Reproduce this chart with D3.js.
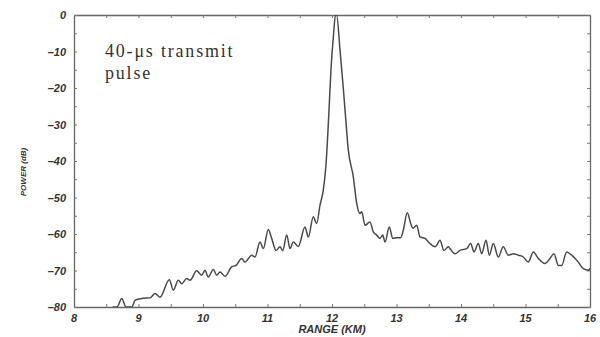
<!DOCTYPE html>
<html>
<head>
<meta charset="utf-8">
<script src="https://cdn.jsdelivr.net/npm/d3@7"></script>
<style>
  body { margin: 0; background: #fff; }
  .tickLabel { font-family: "Liberation Sans", Arial, sans-serif; font-style: italic; font-weight: bold; font-size: 11px; fill: #333; }
  .axisText { font-family: "Liberation Sans", Arial, sans-serif; font-style: italic; font-weight: bold; fill: #333; }
  .note { font-family: "Liberation Serif", "DejaVu Serif", serif; font-size: 18px; letter-spacing: 1.8px; fill: #333; }
</style>
</head>
<body>
<div id="chart"></div>
<script>
var svgWidth = 600;
var svgHeight = 337;

var margin = { top: 15, right: 10, bottom: 30, left: 74 };
var width = svgWidth - margin.left - margin.right;
var height = svgHeight - margin.top - margin.bottom;

// range in km
var rangeKm = [8.60, 8.667, 8.740, 8.806, 8.895, 8.946, 8.992, 9.070, 9.178, 9.256, 9.333,
  9.478, 9.540, 9.617, 9.670, 9.747, 9.798, 9.902, 9.980, 10.031, 10.082, 10.160, 10.212,
  10.264, 10.341, 10.445, 10.512, 10.600, 10.651, 10.755, 10.806, 10.884, 10.935, 11.012,
  11.065, 11.132, 11.194, 11.236, 11.298, 11.349, 11.400, 11.478, 11.581, 11.633, 11.710,
  11.763, 11.814, 11.865, 11.907, 11.946, 11.984, 12.023, 12.054, 12.072, 12.124, 12.171,
  12.202, 12.253, 12.330, 12.383, 12.434, 12.460, 12.512, 12.589, 12.640, 12.693, 12.744,
  12.786, 12.822, 12.888, 12.941, 13.003, 13.065, 13.105, 13.167, 13.220, 13.256, 13.313,
  13.364, 13.442, 13.519, 13.597, 13.623, 13.674, 13.736, 13.803, 13.829, 13.907, 13.984,
  14.088, 14.150, 14.202, 14.268, 14.321, 14.388, 14.439, 14.501, 14.578, 14.656, 14.733,
  14.811, 14.888, 14.966, 15.043, 15.121, 15.198, 15.302, 15.380, 15.442, 15.509, 15.561,
  15.639, 15.716, 15.819, 15.896, 15.974, 16.0];

// received power in dB
var powerDb = [-80, -80, -77.7, -80, -80, -78.2, -77.9, -77.6, -77.5, -76.3, -77.3,
  -72.5, -75.4, -72.7, -73.6, -72.2, -72.7, -70.1, -71.3, -69.9, -71.8, -69.7, -71.3,
  -70.4, -71.6, -69.0, -68.6, -66.7, -67.7, -65.8, -66.3, -62.2, -64.0, -58.8,
  -61.2, -64.5, -63.5, -64.6, -60.3, -64.0, -62.2, -63.4, -58.1, -60.8, -55.3,
  -57.1, -52.1, -48.0, -41.0, -28.8, -15.0, -5.5, 0, 0, -9.6, -19.2,
  -26.0, -37.0, -44.3, -51.6, -54.4, -53.9, -57.6, -56.7, -59.4, -60.3, -61.2,
  -60.3, -62.2, -58.1, -61.2, -61.0, -61.0, -59.0, -54.2, -57.1, -58.4, -57.6,
  -60.8, -61.2, -62.6, -63.5, -63.1, -61.7, -64.5, -63.5, -64.0, -65.4, -64.5,
  -64.0, -62.6, -64.9, -62.6, -65.4, -61.7, -65.8, -62.6, -66.3, -63.5, -65.8,
  -65.4, -65.8, -66.3, -67.7, -64.9, -66.7, -68.1, -66.7, -65.4, -68.6, -68.6,
  -64.9, -65.8, -67.7, -69.5, -69.9, -69.4];

var xTickValues = [8, 9, 10, 11, 12, 13, 14, 15, 16];
var yTickValues = [0, -10, -20, -30, -40, -50, -60, -70, -80];
var noteLines = ["40-\u03bcs transmit", "pulse"];

var pulseData = rangeKm.map(function (r, i) { return { range: r, power: powerDb[i] }; });

var svg = d3.select("#chart")
  .append("svg")
  .attr("width", svgWidth)
  .attr("height", svgHeight);

var chartGroup = svg.append("g")
  .attr("transform", `translate(${margin.left}, ${margin.top})`);

var xLinearScale = d3.scaleLinear().domain([8, 16]).range([0, width]);
var yLinearScale = d3.scaleLinear().domain([-80, 0]).range([height, 0]);

var minorX = d3.range(8, 16.01, 0.5);
var minorY = d3.range(-80, 0.01, 5);

// axes: ticks point inward, all four sides
function styleAxis(g) {
  g.select(".domain").attr("stroke", "#666").attr("stroke-width", 1.3);
  g.selectAll(".tick line").attr("stroke", "#777");
}

chartGroup.append("g")
  .attr("transform", `translate(0, ${height})`)
  .call(d3.axisTop(xLinearScale).tickValues(minorX).tickSize(3).tickFormat("").tickSizeOuter(0))
  .call(styleAxis);

chartGroup.append("g")
  .call(d3.axisBottom(xLinearScale).tickValues(minorX).tickSize(3).tickFormat("").tickSizeOuter(0))
  .call(styleAxis);

chartGroup.append("g")
  .call(d3.axisRight(yLinearScale).tickValues(minorY).tickSize(3).tickFormat("").tickSizeOuter(0))
  .call(styleAxis);

chartGroup.append("g")
  .attr("transform", `translate(${width}, 0)`)
  .call(d3.axisLeft(yLinearScale).tickValues(minorY).tickSize(3).tickFormat("").tickSizeOuter(0))
  .call(styleAxis);

// tick labels
chartGroup.selectAll(".xLabel")
  .data(xTickValues)
  .enter()
  .append("text")
  .attr("class", "tickLabel")
  .attr("x", d => xLinearScale(d))
  .attr("y", height + 15)
  .attr("text-anchor", "middle")
  .text(d => d);

chartGroup.selectAll(".yLabel")
  .data(yTickValues)
  .enter()
  .append("text")
  .attr("class", "tickLabel")
  .attr("x", -8)
  .attr("y", d => yLinearScale(d) + 4)
  .attr("text-anchor", "end")
  .text(d => d === 0 ? "0" : "\u2013" + Math.abs(d));

// pulse trace
var line = d3.line()
  .x(d => xLinearScale(d.range))
  .y(d => yLinearScale(d.power))
  .curve(d3.curveMonotoneX);

chartGroup.append("clipPath")
  .attr("id", "plotClip")
  .append("rect")
  .attr("width", width)
  .attr("height", height);

chartGroup.append("path")
  .datum(pulseData)
  .attr("clip-path", "url(#plotClip)")
  .attr("fill", "none")
  .attr("stroke", "#4a4a4a")
  .attr("stroke-width", 1.5)
  .attr("d", line);

// axis titles
chartGroup.append("text")
  .attr("class", "axisText")
  .attr("transform", `translate(${-margin.left + 26}, ${157}) rotate(-90)`)
  .attr("text-anchor", "middle")
  .attr("font-size", 8)
  .text("POWER (dB)");

chartGroup.append("text")
  .attr("class", "axisText")
  .attr("x", xLinearScale(12))
  .attr("y", height + 26)
  .attr("text-anchor", "middle")
  .attr("font-size", 11)
  .text("RANGE (KM)");

// annotation
chartGroup.selectAll(".note")
  .data(noteLines)
  .enter()
  .append("text")
  .attr("class", "note")
  .attr("x", 31)
  .attr("y", (d, i) => 42 + i * 22)
  .text(d => d);
</script>
</body>
</html>
